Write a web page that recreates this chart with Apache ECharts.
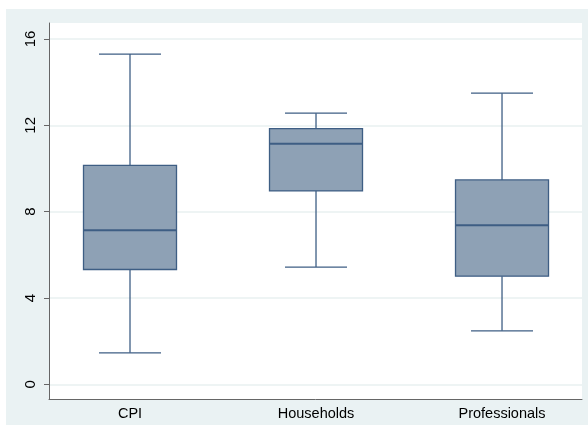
<!DOCTYPE html>
<html>
<head>
<meta charset="utf-8">
<script src="https://cdn.jsdelivr.net/npm/echarts@6/dist/echarts.min.js"></script>
<style>
  html, body { margin: 0; padding: 0; background: #fff; }
  #chart { width: 588px; height: 430px; }
</style>
</head>
<body>
<div id="chart"></div>
<script>
// box summaries
const categories = ["CPI", "Households", "Professionals"];
const whiskerLow = [1.46, 5.43, 2.48];
const lowerQuartile = [5.32, 8.96, 5.01];
const median = [7.14, 11.14, 7.37];
const upperQuartile = [10.14, 11.85, 9.47];
const whiskerHigh = [15.3, 12.56, 13.49];
const yTicks = [0, 4, 8, 12, 16];

const boxFill = "#8ea1b5";
const boxLine = "#3e5e84";

const chart = echarts.init(document.getElementById("chart"));

const boxData = categories.map((c, i) => [
  i + 1,
  whiskerLow[i],
  lowerQuartile[i],
  median[i],
  upperQuartile[i],
  whiskerHigh[i],
]);

const renderBox = (params, api) => {
  const x = api.value(0);
  const pLow = api.coord([x, api.value(1)]);
  const pQ1 = api.coord([x, api.value(2)]);
  const pMed = api.coord([x, api.value(3)]);
  const pQ3 = api.coord([x, api.value(4)]);
  const pHigh = api.coord([x, api.value(5)]);
  const boxW = api.size([0.5, 0])[0];
  const capW = api.size([1 / 3, 0])[0];
  const cx = pMed[0];
  const lineStyle = { stroke: boxLine, lineWidth: 1.3 };
  return {
    type: "group",
    children: [
      { type: "line", shape: { x1: cx, y1: pQ1[1], x2: cx, y2: pLow[1] }, style: lineStyle },
      { type: "line", shape: { x1: cx, y1: pQ3[1], x2: cx, y2: pHigh[1] }, style: lineStyle },
      { type: "line", shape: { x1: cx - capW / 2, y1: pLow[1], x2: cx + capW / 2, y2: pLow[1] }, style: lineStyle },
      { type: "line", shape: { x1: cx - capW / 2, y1: pHigh[1], x2: cx + capW / 2, y2: pHigh[1] }, style: lineStyle },
      {
        type: "rect",
        shape: { x: cx - boxW / 2, y: pQ3[1], width: boxW, height: pQ1[1] - pQ3[1] },
        style: { fill: boxFill, stroke: boxLine, lineWidth: 1.3 },
      },
      { type: "line", shape: { x1: cx - boxW / 2, y1: pMed[1], x2: cx + boxW / 2, y2: pMed[1] }, style: { stroke: boxLine, lineWidth: 2 } },
    ],
  };
};

const option = {
  animation: false,
  textStyle: { fontFamily: "Liberation Sans, Arial, sans-serif" },
  graphic: [
    {
      type: "rect",
      left: 6,
      top: 9,
      shape: { width: 582, height: 416 },
      style: { fill: "#eaf2f3" },
      z: -10,
    },
  ],
  grid: {
    left: 49,
    right: 6,
    top: 23,
    bottom: 31,
    show: true,
    backgroundColor: "#fff",
    borderWidth: 0,
  },
  xAxis: {
    type: "value",
    min: 0.5645,
    max: 3.43,
    axisLine: { show: true, onZero: false, lineStyle: { color: "#666", width: 1 } },
    axisTick: { show: false },
    splitLine: { show: false },
    axisLabel: {
      customValues: [1, 2, 3],
      formatter: (v) => categories[Math.round(v) - 1] || "",
      color: "#000",
      fontSize: 14.5,
      margin: 7,
    },
  },
  yAxis: {
    type: "value",
    min: -0.68,
    max: 16.74,
    axisLine: { show: true, onZero: false, lineStyle: { color: "#666", width: 1 } },
    axisTick: { show: true, customValues: yTicks, length: 5, lineStyle: { color: "#666" } },
    splitLine: { show: true, lineStyle: { color: "#e9f0f1", width: 1.5 } },
    axisLabel: {
      customValues: yTicks,
      rotate: 90,
      color: "#000",
      fontSize: 15,
      margin: 11,
    },
  },
  series: [
    {
      type: "custom",
      renderItem: renderBox,
      data: boxData,
      encode: { x: 0, y: [1, 2, 3, 4, 5] },
    },
  ],
};

chart.setOption(option);
</script>
</body>
</html>
